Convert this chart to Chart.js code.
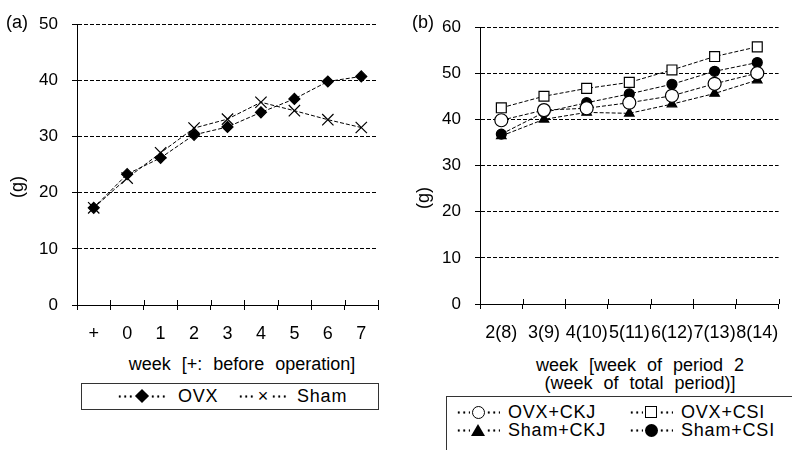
<!DOCTYPE html>
<html>
<head>
<meta charset="utf-8">
<script src="https://cdn.jsdelivr.net/npm/chart.js@4.4.1/dist/chart.umd.min.js"></script>
<style>
  body { margin: 0; background: #fff; font-family: "Liberation Sans", Arial, sans-serif; color: #000; }
  #wrap { position: relative; width: 792px; height: 450px; overflow: hidden; }
  .box { position: absolute; }
  .txt { position: absolute; font-size: 18px; white-space: nowrap; line-height: 18px; }
  .ttl { word-spacing: 6px; transform: translateX(-50%); text-align: center; }
  .rot { transform: translate(-50%, -50%) rotate(-90deg); }
  .leg { position: absolute; border: 1px solid #333; background: #fff; }
  .item { position: absolute; font-size: 18px; white-space: nowrap; line-height: 18px; height: 18px; display: flex; align-items: center; }
  .dots { display: inline-block; height: 3px; background: radial-gradient(circle, #000 0.9px, transparent 1.4px) 0 0 / 5.5px 3px repeat-x; }
  .mk { display: inline-flex; width: 16px; height: 18px; align-items: center; justify-content: center; }
  .mk i { display: block; box-sizing: border-box; font-style: normal; }
  .lbl { display: inline-block; letter-spacing: 0.8px; }
</style>
</head>
<body>
<div id="wrap">
  <div class="box" style="left:0;top:0;width:395px;height:350px"><canvas id="grafico_a"></canvas></div>
  <div class="box" style="left:400px;top:0;width:392px;height:350px"><canvas id="grafico_b"></canvas></div>

  <div class="txt" style="left:6px;top:13px">(a)</div>
  <div class="txt" style="left:412px;top:13px">(b)</div>
  <div class="txt rot" style="left:17px;top:187px">(g)</div>
  <div class="txt rot" style="left:423px;top:198px">(g)</div>

  <div class="txt ttl" style="left:242px;top:355px">week [+: before operation]</div>
  <div class="txt ttl" style="left:640px;top:356px">week [week of period 2<br>(week of total period)]</div>

  <div class="leg" id="legenda_a" style="left:81px;top:383px;width:296px;height:25px"></div>
  <div class="leg" id="legenda_b" style="left:446px;top:396px;width:360px;height:70px"></div>
</div>

<script>
// DADOS - GRÁFICO (a)
const semanasA = ['+', '0', '1', '2', '3', '4', '5', '6', '7']
const pesoOVX = [17.3, 23.3, 26.2, 30.3, 31.7, 34.3, 36.7, 39.8, 40.7]
const pesoSham = [17.3, 22.6, 27.1, 31.5, 33.1, 36.1, 34.6, 33.0, 31.6]

// DADOS - GRÁFICO (b)
const semanasB = ['2(8)', '3(9)', '4(10)', '5(11)', '6(12)', '7(13)', '8(14)']
const pesoOvxCkj = [39.8, 42.0, 42.4, 43.6, 45.1, 47.7, 50.0]
const pesoOvxCsi = [42.5, 45.0, 46.7, 48.0, 50.7, 53.6, 55.7]
const pesoShamCkj = [36.4, 40.0, 41.5, 41.3, 43.3, 45.6, 48.5]
const pesoShamCsi = [36.8, 41.5, 43.6, 45.5, 47.6, 50.4, 52.3]

const ticksA = [0, 10, 20, 30, 40, 50]
const ticksB = [0, 10, 20, 30, 40, 50, 60]

Chart.defaults.font.family = '"Liberation Sans", Arial, sans-serif'
Chart.defaults.color = '#000'

// marcas do eixo x cruzando a linha (para cima)
const marcasX = {
    id: 'marcasX',
    afterDraw(chart) {
        const x = chart.scales.x
        const n = x.ticks.length
        const ctx = chart.ctx
        ctx.save()
        ctx.strokeStyle = '#000'
        ctx.lineWidth = 1
        ctx.beginPath()
        for (let i = 0; i <= n; i++) {
            const px = Math.round(x.left + i * (x.right - x.left) / n) + 0.5
            ctx.moveTo(px, x.top - 5)
            ctx.lineTo(px, x.top)
        }
        ctx.stroke()
        ctx.restore()
    }
}

function serie(label, data, estilo, raio, preenchido) {
    return {
        label: label,
        data: data,
        borderColor: '#000',
        borderWidth: 1,
        borderDash: [4, 2],
        tension: 0,
        pointStyle: estilo,
        pointRadius: raio,
        pointBorderColor: '#000',
        pointBorderWidth: 1.2,
        pointBackgroundColor: preenchido ? '#000' : '#fff'
    }
}

function opcoes(maxY, valores, larguraY, alturaX, padding) {
    return {
        responsive: true,
        maintainAspectRatio: false,
        animation: false,
        layout: { padding: padding },
        plugins: { legend: { display: false }, tooltip: { enabled: false } },
        scales: {
            x: {
                offset: true,
                grid: { offset: true, drawOnChartArea: false, color: '#000', tickLength: 5 },
                border: { color: '#000', width: 1 },
                ticks: { font: { size: 18 }, padding: 13, maxRotation: 0, autoSkip: false },
                afterFit: s => { s.height = alturaX }
            },
            y: {
                min: 0,
                max: maxY,
                afterBuildTicks: s => { s.ticks = valores.map(v => ({ value: v })) },
                grid: { color: '#000', lineWidth: 1, tickLength: 5 },
                border: { color: '#000', width: 1, dash: [4, 2] },
                ticks: { font: { size: 17 }, padding: 14 },
                afterFit: s => { s.width = larguraY }
            }
        }
    }
}

// GRÁFICO (a)
let graficoA = new Chart(document.getElementById('grafico_a'), {
    type: 'line',
    data: {
        labels: semanasA,
        datasets: [
            serie('OVX', pesoOVX, 'rectRot', 5.5, true),
            serie('Sham', pesoSham, 'crossRot', 8, false)
        ]
    },
    options: opcoes(50, ticksA, 77, 45, { top: 24, right: 17, bottom: 0, left: 0 }),
    plugins: [marcasX]
})

// GRÁFICO (b)
let graficoB = new Chart(document.getElementById('grafico_b'), {
    type: 'line',
    data: {
        labels: semanasB,
        datasets: [
            serie('OVX+CKJ', pesoOvxCkj, 'circle', 6.5, false),
            serie('OVX+CSI', pesoOvxCsi, 'rect', 7, false),
            serie('Sham+CKJ', pesoShamCkj, 'triangle', 5.5, true),
            serie('Sham+CSI', pesoShamCsi, 'circle', 5, true)
        ]
    },
    options: opcoes(60, ticksB, 80, 46, { top: 27, right: 10, bottom: 0, left: 0 }),
    plugins: [marcasX]
})

// MARCADORES DA LEGENDA (CSS)
const formas = {
    diamante: '<i style="width:10px;height:10px;background:#000;transform:rotate(45deg)"></i>',
    xis: '<i style="font-size:18px;line-height:18px">×</i>',
    circuloAberto: '<i style="width:13px;height:13px;border:1px solid #000;border-radius:50%"></i>',
    quadradoAberto: '<i style="width:12px;height:12px;border:1px solid #000"></i>',
    triangulo: '<i style="width:0;height:0;border-left:7px solid transparent;border-right:7px solid transparent;border-bottom:12px solid #000"></i>',
    circuloCheio: '<i style="width:13px;height:13px;background:#000;border-radius:50%"></i>'
}

// LEGENDAS (HTML)
const legendaA = [
    { nome: 'OVX', marca: 'diamante', x: 35, y: 3, espaco: 11 },
    { nome: 'Sham', marca: 'xis', x: 156, y: 3, espaco: 9 }
]
const legendaB = [
    { nome: 'OVX+CKJ', marca: 'circuloAberto', x: 9, y: 6, espaco: 8 },
    { nome: 'OVX+CSI', marca: 'quadradoAberto', x: 182, y: 6, espaco: 8 },
    { nome: 'Sham+CKJ', marca: 'triangulo', x: 9, y: 24, espaco: 8 },
    { nome: 'Sham+CSI', marca: 'circuloCheio', x: 182, y: 24, espaco: 8 }
]

function montarLegenda(id, itens, larguraPontos) {
    let div = document.getElementById(id)
    itens.forEach(it => {
        let s = document.createElement('div')
        s.className = 'item'
        s.style.left = it.x + 'px'
        s.style.top = it.y + 'px'
        s.innerHTML = `<span class="dots" style="width:${larguraPontos}px"></span><span class="mk">${formas[it.marca]}</span><span class="dots" style="width:${larguraPontos}px"></span><span class="lbl" style="margin-left:${it.espaco}px">${it.nome}</span>`
        div.appendChild(s)
    })
}
montarLegenda('legenda_a', legendaA, 17)
montarLegenda('legenda_b', legendaB, 14)
</script>
</body>
</html>
